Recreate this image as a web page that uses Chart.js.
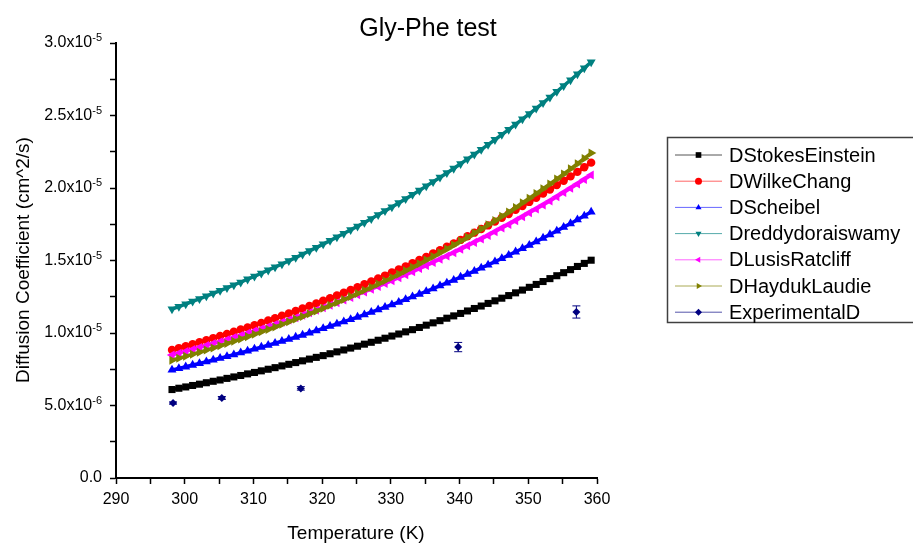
<!DOCTYPE html>
<html>
<head>
<meta charset="utf-8">
<script src="https://cdn.jsdelivr.net/npm/chart.js@4.4.1/dist/chart.umd.min.js"></script>
<style>
  html, body { margin: 0; padding: 0; background: #fff; }
</style>
</head>
<body>
<canvas id="chart" width="913" height="544"></canvas>
<script>
// temperature (K) for the model curves
const temps = [298.15,299.15,300.15,301.15,302.15,303.15,304.15,305.15,306.15,307.15,308.15,309.15,310.15,311.15,312.15,313.15,314.15,315.15,316.15,317.15,318.15,319.15,320.15,321.15,322.15,323.15,324.15,325.15,326.15,327.15,328.15,329.15,330.15,331.15,332.15,333.15,334.15,335.15,336.15,337.15,338.15,339.15,340.15,341.15,342.15,343.15,344.15,345.15,346.15,347.15,348.15,349.15,350.15,351.15,352.15,353.15,354.15,355.15,356.15,357.15,358.15,359.15];

// all D values in units of 1e-6 cm^2/s
const dStokesEinstein = [6.10,6.19,6.28,6.38,6.47,6.57,6.67,6.76,6.87,6.97,7.07,7.18,7.28,7.39,7.50,7.61,7.73,7.84,7.96,8.08,8.20,8.32,8.44,8.57,8.70,8.83,8.96,9.09,9.23,9.36,9.50,9.64,9.79,9.93,10.08,10.23,10.38,10.54,10.70,10.85,11.02,11.18,11.35,11.52,11.69,11.86,12.04,12.22,12.40,12.58,12.77,12.96,13.15,13.35,13.55,13.75,13.95,14.16,14.37,14.59,14.80,15.02];
const dWilkeChang = [8.83,8.96,9.09,9.23,9.37,9.51,9.65,9.79,9.94,10.09,10.24,10.39,10.54,10.70,10.86,11.02,11.19,11.35,11.52,11.69,11.87,12.04,12.22,12.40,12.59,12.78,12.97,13.16,13.36,13.55,13.76,13.96,14.17,14.38,14.59,14.81,15.03,15.25,15.48,15.71,15.95,16.18,16.42,16.67,16.92,17.17,17.42,17.68,17.95,18.21,18.49,18.76,19.04,19.32,19.61,19.90,20.20,20.50,20.80,21.11,21.43,21.75];
const dScheibel = [7.45,7.56,7.67,7.79,7.90,8.02,8.14,8.26,8.38,8.51,8.64,8.76,8.90,9.03,9.16,9.30,9.44,9.58,9.72,9.86,10.01,10.16,10.31,10.47,10.62,10.78,10.94,11.10,11.27,11.44,11.61,11.78,11.95,12.13,12.31,12.50,12.68,12.87,13.06,13.26,13.45,13.65,13.86,14.06,14.27,14.49,14.70,14.92,15.14,15.37,15.60,15.83,16.06,16.30,16.55,16.79,17.04,17.30,17.55,17.81,18.08,18.35];
const dReddyDoraiswamy = [11.65,11.82,12.00,12.18,12.36,12.54,12.73,12.92,13.11,13.31,13.50,13.71,13.91,14.12,14.33,14.54,14.76,14.98,15.20,15.43,15.66,15.89,16.13,16.37,16.61,16.86,17.11,17.36,17.62,17.88,18.15,18.42,18.69,18.97,19.25,19.54,19.83,20.13,20.43,20.73,21.04,21.35,21.67,21.99,22.32,22.65,22.99,23.33,23.68,24.03,24.39,24.75,25.12,25.49,25.87,26.26,26.65,27.05,27.45,27.86,28.27,28.69];
const dLusisRatcliff = [8.48,8.61,8.73,8.86,9.00,9.13,9.27,9.40,9.54,9.69,9.83,9.98,10.13,10.28,10.43,10.58,10.74,10.90,11.06,11.23,11.40,11.57,11.74,11.91,12.09,12.27,12.45,12.64,12.83,13.02,13.21,13.41,13.61,13.81,14.01,14.22,14.44,14.65,14.87,15.09,15.31,15.54,15.77,16.01,16.25,16.49,16.73,16.98,17.24,17.49,17.75,18.02,18.29,18.56,18.83,19.11,19.40,19.69,19.98,20.28,20.58,20.89];
const dHaydukLaudie = [8.12,8.26,8.39,8.54,8.68,8.82,8.97,9.12,9.28,9.43,9.59,9.75,9.92,10.08,10.25,10.42,10.60,10.78,10.96,11.14,11.33,11.52,11.71,11.91,12.11,12.31,12.52,12.73,12.94,13.16,13.38,13.60,13.83,14.06,14.30,14.54,14.78,15.03,15.28,15.54,15.80,16.07,16.34,16.61,16.89,17.17,17.46,17.75,18.05,18.35,18.66,18.98,19.29,19.62,19.95,20.28,20.62,20.97,21.32,21.68,22.04,22.41];

// experimental points with error bars
const expTemps = [298.3, 305.4, 316.9, 339.8, 357.0];
const expD = [5.17, 5.52, 6.18, 9.03, 11.45];
const expErr = [0.08, 0.10, 0.12, 0.32, 0.42];

const seriesNames = ["DStokesEinstein", "DWilkeChang", "DScheibel", "Dreddydoraiswamy", "DLusisRatcliff", "DHaydukLaudie", "ExperimentalD"];
const xTicks = [290, 300, 310, 320, 330, 340, 350, 360];
const yTickValues = [0, 5, 10, 15, 20, 25, 30];
const yTickMant = ["0.0", "5.0x10", "1.0x10", "1.5x10", "2.0x10", "2.5x10", "3.0x10"];
const yTickExp = ["", "-6", "-5", "-5", "-5", "-5", "-5"];

const FONT = "'Liberation Sans', Arial, sans-serif";

function xy(xs, ys) {
    return xs.map((x, i) => ({ x: x, y: ys[i] }));
}

var styles = [
    { color: "#000000", line: "#555555", point: "rect", radius: 5, rot: 0 },
    { color: "#ff0000", line: "#ff6666", point: "circle", radius: 4.2, rot: 0 },
    { color: "#0000ff", line: "#6666ff", point: "triangle", radius: 5.2, rot: 0 },
    { color: "#008080", line: "#55aaaa", point: "triangle", radius: 5.2, rot: 180 },
    { color: "#ff00ff", line: "#ff66ff", point: "triangle", radius: 5.2, rot: 270 },
    { color: "#808000", line: "#aaaa55", point: "triangle", radius: 5.2, rot: 90 },
    { color: "#000080", line: "#5555aa", point: "rectRot", radius: 4, rot: 0 }
];

var curves = [dStokesEinstein, dWilkeChang, dScheibel, dReddyDoraiswamy, dLusisRatcliff, dHaydukLaudie];

var datasets = curves.map((vals, i) => ({
    label: seriesNames[i],
    data: xy(temps, vals),
    borderColor: styles[i].color,
    backgroundColor: styles[i].color,
    borderWidth: 3.5,
    pointStyle: styles[i].point,
    pointRadius: styles[i].radius,
    pointRotation: styles[i].rot,
    pointBorderWidth: 0,
    order: 10 - i
}));

datasets.push({
    label: seriesNames[6],
    data: xy(expTemps, expD),
    showLine: false,
    borderColor: styles[6].color,
    backgroundColor: styles[6].color,
    pointStyle: styles[6].point,
    pointRadius: styles[6].radius,
    pointBorderWidth: 0,
    order: 1
});

// error bars on the experimental points
const errorBars = {
    id: "errorBars",
    afterDatasetsDraw(chart) {
        const ctx = chart.ctx;
        const xs = chart.scales.x, ys = chart.scales.y;
        ctx.save();
        ctx.strokeStyle = "#000080";
        ctx.lineWidth = 1;
        for (let i = 0; i < expTemps.length; i++) {
            const px = xs.getPixelForValue(expTemps[i]);
            const top = ys.getPixelForValue(expD[i] + expErr[i]);
            const bot = ys.getPixelForValue(expD[i] - expErr[i]);
            ctx.beginPath();
            ctx.moveTo(px, top); ctx.lineTo(px, bot);
            ctx.moveTo(px - 4, top); ctx.lineTo(px + 4, top);
            ctx.moveTo(px - 4, bot); ctx.lineTo(px + 4, bot);
            ctx.stroke();
        }
        ctx.restore();
    }
};

// titles, y tick labels with exponents, legend box
const decorations = {
    id: "decorations",
    afterDraw(chart) {
        const ctx = chart.ctx;
        const ys = chart.scales.y;
        ctx.save();
        ctx.fillStyle = "#000";

        ctx.font = "25px " + FONT;
        ctx.textAlign = "center";
        ctx.textBaseline = "alphabetic";
        ctx.fillText("Gly-Phe test", 428, 36);

        ctx.font = "19px " + FONT;
        ctx.fillText("Temperature (K)", 356, 539);

        ctx.save();
        ctx.translate(29, 260);
        ctx.rotate(-Math.PI / 2);
        ctx.fillText("Diffusion Coefficient (cm^2/s)", 0, 0);
        ctx.restore();

        // y tick labels
        for (let i = 0; i < yTickValues.length; i++) {
            const py = ys.getPixelForValue(yTickValues[i]);
            ctx.font = "11px " + FONT;
            const ew = yTickExp[i] ? ctx.measureText(yTickExp[i]).width : 0;
            const right = 102;
            if (yTickExp[i]) {
                ctx.textAlign = "right";
                ctx.textBaseline = "alphabetic";
                ctx.fillText(yTickExp[i], right, py - 2);
            }
            ctx.font = "16px " + FONT;
            ctx.textAlign = "right";
            ctx.textBaseline = "middle";
            ctx.fillText(yTickMant[i], right - ew, py);
        }

        // legend
        ctx.strokeStyle = "#404040";
        ctx.lineWidth = 1.5;
        ctx.strokeRect(667.5, 137.5, 270, 185);
        ctx.font = "20px " + FONT;
        ctx.textAlign = "left";
        ctx.textBaseline = "middle";
        for (let i = 0; i < seriesNames.length; i++) {
            const cy = 155 + i * 26.2;
            ctx.strokeStyle = styles[i].line;
            ctx.lineWidth = 1;
            ctx.beginPath();
            ctx.moveTo(675, cy); ctx.lineTo(722, cy);
            ctx.stroke();
            ctx.fillStyle = styles[i].color;
            Chart.helpers.drawPoint(ctx, {
                pointStyle: styles[i].point,
                rotation: styles[i].rot,
                radius: styles[i].point === "rect" ? 4 : 3.5,
                borderWidth: 0
            }, 698.5, cy);
            ctx.fillStyle = "#000";
            ctx.fillText(seriesNames[i], 729, cy + 1);
        }
        ctx.restore();
    }
};

new Chart(document.getElementById("chart"), {
    type: "line",
    data: { datasets: datasets },
    options: {
        responsive: false,
        animation: false,
        maintainAspectRatio: false,
        layout: { padding: { left: 0, top: 43, right: 316, bottom: 0 } },
        plugins: {
            legend: { display: false },
            title: { display: false },
            tooltip: { enabled: false }
        },
        scales: {
            x: {
                type: "linear",
                min: 290,
                max: 360,
                afterFit: s => { s.height = 66; },
                afterBuildTicks: s => {
                    const t = [];
                    for (let v = 290; v <= 360; v += 5) t.push({ value: v });
                    s.ticks = t;
                },
                ticks: {
                    autoSkip: false,
                    maxRotation: 0,
                    padding: 6,
                    color: "#000",
                    font: { family: FONT, size: 16 },
                    callback: v => xTicks.includes(v) ? String(v) : ""
                },
                grid: { drawOnChartArea: false, drawTicks: true, tickLength: 6, tickColor: "#000", tickWidth: 1.5 },
                border: { color: "#000", width: 2 }
            },
            y: {
                type: "linear",
                min: 0,
                max: 30,
                afterFit: s => { s.width = 116; },
                afterBuildTicks: s => {
                    const t = [];
                    for (let v = 0; v <= 30; v += 2.5) t.push({ value: v });
                    s.ticks = t;
                },
                ticks: {
                    autoSkip: false,
                    callback: () => ""
                },
                grid: { drawOnChartArea: false, drawTicks: true, tickLength: 6, tickColor: "#000", tickWidth: 1.5 },
                border: { color: "#000", width: 2 }
            }
        }
    },
    plugins: [errorBars, decorations]
});
</script>
</body>
</html>
